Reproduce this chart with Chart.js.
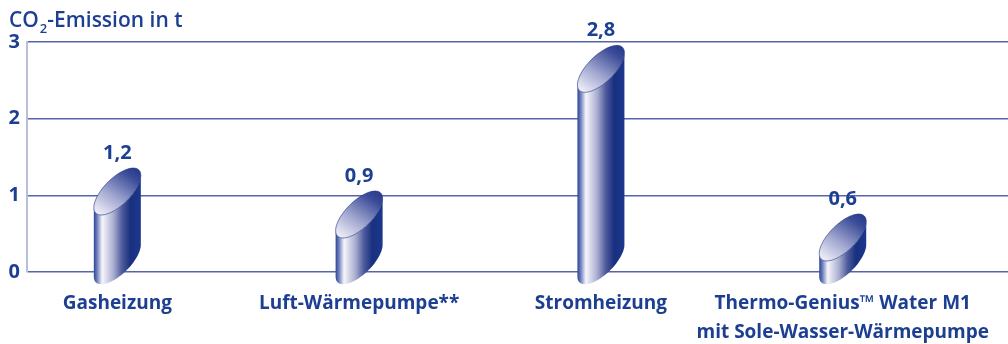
<!DOCTYPE html>
<html lang="de">
<head>
<meta charset="UTF-8">
<title>CO2-Emission</title>
<script src="https://cdn.jsdelivr.net/npm/chart.js@4.4.0/dist/chart.umd.min.js"></script>
<style>
  body { margin: 0; background: #fff; }
  .chart-box { width: 1008px; height: 344px; position: relative; }
</style>
</head>
<body>
<div class="chart-box">
  <canvas id="canvas"></canvas>
</div>
<script>
// data
var categories = ['Gasheizung', 'Luft-Wärmepumpe**', 'Stromheizung', ['Thermo-Genius™ Water M1', 'mit Sole-Wasser-Wärmepumpe']];
var emissions = [1.2, 0.9, 2.8, 0.6];
var yTicks = [0, 1, 2, 3];

var blue = '#1d3f92';
var fontName = '"Open Sans", "Noto Sans", sans-serif';

// points of a tilted cut through an upright cylinder
function ellPoint(cx, cy, r, kr, h, t) {
  return [cx + r * Math.cos(t), cy - kr * Math.cos(t) + h * Math.sin(t)];
}

function addArc(ctx, cx, cy, r, kr, h, t0, t1) {
  var n = 48;
  for (var i = 0; i <= n; i++) {
    var p = ellPoint(cx, cy, r, kr, h, t0 + (t1 - t0) * i / n);
    ctx.lineTo(p[0], p[1]);
  }
}

var cylinderPlugin = {
  id: 'cylinders',
  afterDatasetsDraw: function(chart) {
    var ctx = chart.ctx;
    var meta = chart.getDatasetMeta(0);
    meta.data.forEach(function(bar, i) {
      var cx = bar.x;
      var r = bar.width / 2;
      var kr = 16, h = 17.2;
      var cyT = bar.y + 11.5;
      var cyB = bar.base - 10.5;

      ctx.save();
      // body
      var g = ctx.createLinearGradient(cx - r, 0, cx + r, 0);
      g.addColorStop(0, '#2b4496');
      g.addColorStop(0.07, '#6f7fbc');
      g.addColorStop(0.18, '#f6f6fb');
      g.addColorStop(0.42, '#a9aed0');
      g.addColorStop(0.6, '#4f5b9c');
      g.addColorStop(0.78, '#18307f');
      g.addColorStop(1, '#1c378c');
      ctx.beginPath();
      ctx.moveTo(cx + r, cyT - kr);
      ctx.lineTo(cx + r, cyB - kr);
      addArc(ctx, cx, cyB, r, kr, h, 0, Math.PI);
      ctx.lineTo(cx - r, cyT + kr);
      addArc(ctx, cx, cyT, r, kr, h, Math.PI, 0);
      ctx.closePath();
      ctx.fillStyle = g;
      ctx.fill();

      // top face
      var a = ellPoint(cx, cyT, r, kr, h, Math.PI * 0.75);
      var b = ellPoint(cx, cyT, r, kr, h, -Math.PI * 0.25);
      var g2 = ctx.createLinearGradient(a[0], a[1], b[0], b[1]);
      g2.addColorStop(0, '#eeedf6');
      g2.addColorStop(0.4, '#a0a6cf');
      g2.addColorStop(0.85, '#3a4b98');
      g2.addColorStop(1, '#2a3c8c');
      ctx.beginPath();
      addArc(ctx, cx, cyT, r, kr, h, 0, Math.PI * 2);
      ctx.closePath();
      ctx.fillStyle = g2;
      ctx.fill();
      ctx.strokeStyle = 'rgba(30,52,130,0.6)';
      ctx.lineWidth = 1;
      ctx.stroke();

      // value label
      ctx.fillStyle = blue;
      ctx.font = '700 20px ' + fontName;
      ctx.textAlign = 'center';
      ctx.textBaseline = 'middle';
      ctx.fillText(String(emissions[i]).replace('.', ','), cx, bar.y - 27);
      ctx.restore();
    });

    // title with subscript
    ctx.save();
    ctx.fillStyle = blue;
    ctx.textBaseline = 'alphabetic';
    ctx.textAlign = 'left';
    ctx.font = '600 21px ' + fontName;
    var x = 9;
    ctx.fillText('CO', x, 27);
    x += ctx.measureText('CO').width + 1;
    ctx.font = '600 13px ' + fontName;
    ctx.fillText('2', x, 33);
    x += ctx.measureText('2').width;
    ctx.font = '600 21px ' + fontName;
    ctx.fillText('-Emission in t', x, 27);
    ctx.restore();
  }
};

var ctx = document.getElementById('canvas').getContext('2d');
var myChart = new Chart(ctx, {
  type: 'bar',
  data: {
    datasets: [{
      data: emissions.map(function(v, i) { return { x: i, y: v }; }),
      backgroundColor: 'transparent',
      borderWidth: 0,
      barThickness: 47
    }]
  },
  options: {
    responsive: true,
    maintainAspectRatio: false,
    animation: false,
    layout: { padding: { top: 42, left: 0, right: 0, bottom: 0 } },
    plugins: {
      legend: { display: false },
      tooltip: { enabled: false }
    },
    scales: {
      x: {
        type: 'linear',
        offset: false,
        min: -0.3735,
        max: 3.6835,
        afterBuildTicks: function(scale) {
          scale.ticks = categories.map(function(c, i) { return { value: i }; });
        },
        afterFit: function(scale) {
          scale.height = 72;
          scale.paddingLeft = 0;
          scale.paddingRight = 0;
        },
        grid: { display: false, drawTicks: false },
        border: { display: false },
        ticks: {
          autoSkip: false,
          maxRotation: 0,
          minRotation: 0,
          padding: 17,
          color: blue,
          font: { family: fontName, size: 19, weight: '700', lineHeight: 1.52 },
          callback: function(v) { return categories[v]; }
        }
      },
      y: {
        min: 0,
        max: 3,
        afterBuildTicks: function(scale) {
          scale.ticks = yTicks.map(function(v) { return { value: v }; });
        },
        afterFit: function(scale) {
          scale.width = 27;
        },
        grid: { color: '#5864aa', lineWidth: 1.5, drawTicks: false },
        border: { color: '#b9bedd', width: 2 },
        ticks: {
          padding: 7,
          color: blue,
          font: { family: fontName, size: 20, weight: '700' }
        }
      }
    }
  },
  plugins: [cylinderPlugin]
});
</script>
</body>
</html>
